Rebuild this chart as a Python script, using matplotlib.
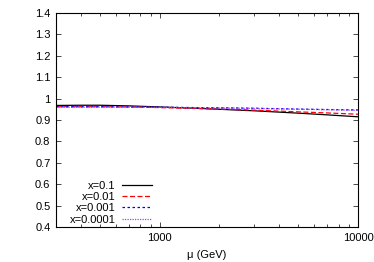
import matplotlib
matplotlib.use("Agg")
import matplotlib.pyplot as plt
import numpy as np
from matplotlib.ticker import FixedLocator, NullFormatter

plt.rcParams['font.family'] = ['Liberation Sans', 'DejaVu Sans']

# mu in GeV
mu = [300, 400, 500, 700, 1000, 1500, 2000, 3000, 5000, 7000, 10000]

ratio_x01 = [0.968, 0.969, 0.969, 0.966, 0.961, 0.955, 0.950, 0.943, 0.932, 0.924, 0.915]
ratio_x001 = [0.962, 0.962, 0.962, 0.961, 0.958, 0.954, 0.951, 0.946, 0.938, 0.933, 0.927]
ratio_x0001 = [0.962, 0.962, 0.962, 0.961, 0.960, 0.958, 0.957, 0.955, 0.951, 0.949, 0.947]
ratio_x00001 = [0.960, 0.960, 0.960, 0.960, 0.959, 0.957, 0.956, 0.954, 0.950, 0.948, 0.945]

labels = ["x=0.1", "x=0.01", "x=0.001", "x=0.0001"]

fig = plt.figure(figsize=(3.74, 2.62), dpi=100)
ax = fig.add_axes([56/374, 1 - 227/262, (358-56)/374, (227-13)/262])

ax.plot(mu, ratio_x01, color='black', lw=0.9, label=labels[0])
ax.plot(mu, ratio_x001, color='red', lw=0.9, ls=(0, (4, 2)), label=labels[1])
ax.plot(mu, ratio_x0001, color='blue', lw=0.9, ls=(0, (2, 2)), label=labels[2])
ax.plot(mu, ratio_x00001, color='#a040ff', lw=0.9, ls=(0, (1, 1)), label=labels[3])

ax.set_xscale('log')
ax.set_xlim(300, 10000)
ax.set_ylim(0.4, 1.4)
ax.xaxis.set_major_locator(FixedLocator([1000, 10000]))
ax.set_xticklabels(['1000', '10000'])
minors = [m * d for d in (100, 1000) for m in range(2, 10)]
ax.xaxis.set_minor_locator(FixedLocator([v for v in minors if 300 <= v <= 10000]))
ax.xaxis.set_minor_formatter(NullFormatter())
ax.set_yticks(np.arange(0.4, 1.41, 0.1))
ax.set_yticklabels(['0.4', '0.5', '0.6', '0.7', '0.8', '0.9', '1', '1.1', '1.2', '1.3', '1.4'])

ax.tick_params(which='both', direction='in', top=True, right=True, labelsize=8, pad=4)
ax.tick_params(which='major', length=3.5, width=0.5)
ax.tick_params(which='minor', length=2, width=0.5)
for s in ax.spines.values():
    s.set_linewidth(0.8)

ax.set_xlabel('μ (GeV)', fontsize=8, labelpad=5)

ax.legend(loc='lower left', bbox_to_anchor=(0.015, -0.03), frameon=False, markerfirst=False,
          fontsize=8, handlelength=2.7, labelspacing=0.11, handletextpad=0.6,
          borderpad=0.3)
for t in ax.get_legend().get_texts():
    t.set_ha('right')
ax.get_legend()._legend_box.align = 'right'

fig.savefig('out.png', dpi=100)
